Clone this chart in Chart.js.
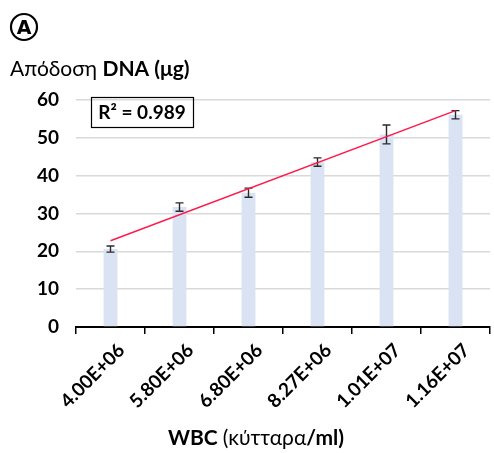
<!DOCTYPE html>
<html>
<head>
<meta charset="utf-8">
<script src="https://cdn.jsdelivr.net/npm/chart.js@4/dist/chart.umd.min.js"></script>
<style>
  body { margin: 0; background: #fff; }
</style>
</head>
<body>
<canvas id="chart" width="494" height="453"></canvas>
<script>
// WBC count per sample (category labels) and DNA yield in µg
var wbcLabels = ["4.00E+06", "5.80E+06", "6.80E+06", "8.27E+06", "1.01E+07", "1.16E+07"];
var dnaYield = [20.6, 31.7, 35.5, 43.6, 50.9, 56.1];
var yieldError = [0.8, 1.1, 1.2, 1.1, 2.5, 1.1];
// linear trendline, ends
var trendLine = [22.8, null, null, null, null, 57.2];
var rSquared = "0.989";

var FONT = "Lato, 'Open Sans', sans-serif";

var errorBars = {
    id: "errorBars",
    afterDatasetDraw: function (chart, args) {
        if (args.index !== 0) return;
        var ctx = chart.ctx;
        var y = chart.scales.y;
        var meta = chart.getDatasetMeta(0);
        ctx.save();
        ctx.strokeStyle = "#2a2a2a";
        ctx.lineWidth = 1.4;
        meta.data.forEach(function (bar, i) {
            var top = y.getPixelForValue(dnaYield[i] + yieldError[i]);
            var bot = y.getPixelForValue(dnaYield[i] - yieldError[i]);
            ctx.beginPath();
            ctx.moveTo(bar.x, top);
            ctx.lineTo(bar.x, bot);
            ctx.moveTo(bar.x - 4, top);
            ctx.lineTo(bar.x + 4, top);
            ctx.moveTo(bar.x - 4, bot);
            ctx.lineTo(bar.x + 4, bot);
            ctx.stroke();
        });
        ctx.restore();
    }
};

function drawMixed(ctx, parts, x, y, align) {
    var total = 0;
    parts.forEach(function (p) {
        ctx.font = p[1] + " 21px " + FONT;
        total += ctx.measureText(p[0]).width;
    });
    var cx = align === "center" ? x - total / 2 : x;
    ctx.textAlign = "left";
    parts.forEach(function (p) {
        ctx.font = p[1] + " 21px " + FONT;
        ctx.fillText(p[0], cx, y);
        cx += ctx.measureText(p[0]).width;
    });
}

var decorations = {
    id: "decorations",
    afterDraw: function (chart) {
        var ctx = chart.ctx;
        ctx.save();
        ctx.fillStyle = "#000";
        ctx.textBaseline = "alphabetic";

        // panel letter
        ctx.lineWidth = 2.2;
        ctx.strokeStyle = "#000";
        ctx.beginPath();
        ctx.arc(24, 27, 13, 0, Math.PI * 2);
        ctx.stroke();
        ctx.font = "bold 19px 'DejaVu Sans'";
        ctx.textAlign = "center";
        ctx.fillText("A", 24, 34);

        // y title
        drawMixed(ctx, [["Απόδοση ", "normal"], ["DNA (μg)", "bold"]], 10, 76, "left");

        // x title
        drawMixed(ctx, [["WBC ", "bold"], ["(κύτταρα", "normal"], ["/ml)", "bold"]], 256, 445, "center");

        // R² box
        ctx.lineWidth = 1.2;
        ctx.strokeRect(91.5, 97.5, 102, 30);
        ctx.font = "bold 19px " + FONT;
        ctx.textAlign = "center";
        ctx.fillText("R² = " + rSquared, 142, 119);
        ctx.restore();
    }
};

new Chart(document.getElementById("chart").getContext("2d"), {
    type: "bar",
    data: {
        labels: wbcLabels,
        datasets: [
            {
                label: "DNA",
                data: dnaYield,
                backgroundColor: "#dae3f3",
                barPercentage: 0.2,
                categoryPercentage: 1,
                order: 1
            },
            {
                type: "line",
                label: "Trend",
                data: trendLine,
                spanGaps: true,
                borderColor: "#ff1a4b",
                borderWidth: 1.5,
                pointRadius: 0,
                fill: false,
                order: 0
            }
        ]
    },
    options: {
        responsive: false,
        animation: false,
        layout: { padding: { top: 100, right: 4, left: 0, bottom: 0 } },
        plugins: {
            legend: { display: false },
            tooltip: { enabled: false }
        },
        scales: {
            x: {
                offset: true,
                grid: {
                    offset: true,
                    drawOnChartArea: false,
                    drawTicks: true,
                    tickLength: 7,
                    color: "#000",
                    lineWidth: 1.5
                },
                border: { display: true, color: "#000", width: 2 },
                ticks: {
                    color: "#000",
                    font: { family: FONT, size: 19, weight: "bold" },
                    minRotation: 45,
                    maxRotation: 45,
                    labelOffset: 11,
                    padding: 5
                },
                afterFit: function (scale) { scale.height = 453 - 327; }
            },
            y: {
                min: 0,
                max: 60,
                ticks: {
                    stepSize: 10,
                    color: "#000",
                    font: { family: FONT, size: 19, weight: "bold" },
                    padding: 17
                },
                grid: { color: "#d9d9d9", lineWidth: 1.5, drawTicks: false },
                border: { display: false },
                afterFit: function (scale) { scale.width = 76; }
            }
        }
    },
    plugins: [errorBars, decorations]
});
</script>
</body>
</html>
